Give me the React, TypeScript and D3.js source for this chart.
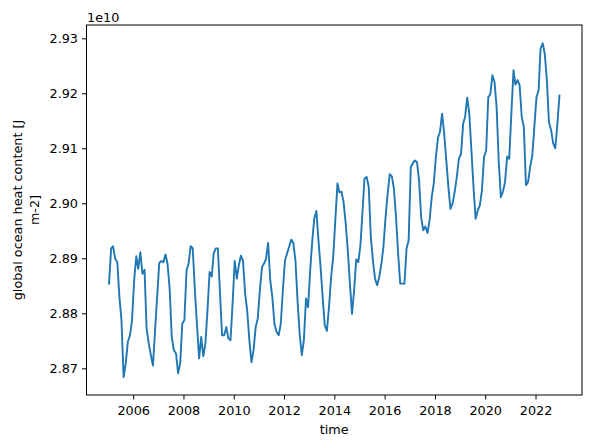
import { useEffect, useRef } from "react";
import * as d3 from "d3";

// years of the monthly record (Jan..Dec each)
const years = [2005, 2006, 2007, 2008, 2009, 2010, 2011, 2012, 2013, 2014, 2015, 2016, 2017, 2018, 2019, 2020, 2021, 2022];

// global ocean heat content, units of 1e10 J m-2, 12 values per year
const ohc = [
  2.8854, 2.8918, 2.8922, 2.8899, 2.8893, 2.8830, 2.8787, 2.8684, 2.8709, 2.8748, 2.8760, 2.8787,
  2.8860, 2.8904, 2.8881, 2.8911, 2.8872, 2.8879, 2.8772, 2.8745, 2.8724, 2.8705, 2.8769, 2.8830,
  2.8892, 2.8895, 2.8893, 2.8907, 2.8890, 2.8845, 2.8757, 2.8733, 2.8727, 2.8691, 2.8709, 2.8781,
  2.8788, 2.8878, 2.8890, 2.8922, 2.8918, 2.8842, 2.8781, 2.8718, 2.8757, 2.8722, 2.8745, 2.8805,
  2.8875, 2.8867, 2.8909, 2.8918, 2.8918, 2.8836, 2.8760, 2.8760, 2.8775, 2.8754, 2.8751, 2.8818,
  2.8895, 2.8863, 2.8887, 2.8905, 2.8896, 2.8836, 2.8805, 2.8751, 2.8711, 2.8733, 2.8775, 2.8790,
  2.8842, 2.8884, 2.8890, 2.8899, 2.8928, 2.8860, 2.8830, 2.8781, 2.8766, 2.8760, 2.8781, 2.8842,
  2.8896, 2.8909, 2.8921, 2.8934, 2.8928, 2.8896, 2.8824, 2.8763, 2.8724, 2.8751, 2.8827, 2.8811,
  2.8878, 2.8933, 2.8972, 2.8986, 2.8933, 2.8884, 2.8830, 2.8778, 2.8768, 2.8811, 2.8866, 2.8902,
  2.8969, 2.9036, 2.9020, 2.9021, 2.9002, 2.8963, 2.8915, 2.8854, 2.8799, 2.8842, 2.8898, 2.8893,
  2.8924, 2.8987, 2.9045, 2.9048, 2.9030, 2.8939, 2.8896, 2.8863, 2.8851, 2.8866, 2.8890, 2.8921,
  2.8975, 2.9018, 2.9053, 2.9049, 2.9027, 2.8975, 2.8909, 2.8854, 2.8854, 2.8854, 2.8918, 2.8933,
  2.9066, 2.9073, 2.9078, 2.9075, 2.9042, 2.8975, 2.8951, 2.8958, 2.8946, 2.8969, 2.9011, 2.9036,
  2.9084, 2.9120, 2.9130, 2.9163, 2.9127, 2.9078, 2.9030, 2.8990, 2.9000, 2.9021, 2.9048, 2.9081,
  2.9090, 2.9145, 2.9157, 2.9192, 2.9163, 2.9096, 2.9030, 2.8972, 2.8987, 2.8996, 2.9024, 2.9084,
  2.9096, 2.9193, 2.9198, 2.9233, 2.9221, 2.9175, 2.9078, 2.9011, 2.9021, 2.9039, 2.9085, 2.9081,
  2.9163, 2.9242, 2.9216, 2.9224, 2.9215, 2.9157, 2.9139, 2.9033, 2.9039, 2.9066, 2.9087, 2.9139,
  2.9193, 2.9205, 2.9281, 2.9291, 2.9272, 2.9224, 2.9148, 2.9133, 2.9109, 2.9100, 2.9145, 2.9196,
];

const yTicks = [2.87, 2.88, 2.89, 2.9, 2.91, 2.92, 2.93];
const xTickYears = [2006, 2008, 2010, 2012, 2014, 2016, 2018, 2020, 2022];

interface Pt { date: Date; v: number }

export default function App() {
  const svgRef = useRef<SVGSVGElement>(null);
  const W = 592, H = 448;
  const m = { top: 25, right: 10, bottom: 53, left: 86.5 };
  const iW = W - m.left - m.right;
  const iH = H - m.top - m.bottom;
  const FONT = "DejaVu Sans, sans-serif";
  const FS = 12.8;

  useEffect(() => {
    if (!svgRef.current) return;
    const svg = d3.select(svgRef.current);
    svg.selectAll("*").remove();

    const data: Pt[] = [];
    years.forEach((yr, yi) => {
      for (let mo = 0; mo < 12; mo++) data.push({ date: new Date(yr, mo, 15), v: ohc[yi * 12 + mo] });
    });

    // matplotlib-style 5% margins
    const [d0, d1] = d3.extent(data, d => +d.date) as [number, number];
    const dp = (d1 - d0) * 0.05;
    const x = d3.scaleTime().domain([new Date(d0 - dp), new Date(d1 + dp)]).range([0, iW]);
    const y = d3.scaleLinear().domain([2.86515, 2.93242]).range([iH, 0]);

    const g = svg.append("g").attr("transform", `translate(${m.left},${m.top})`);

    /* line */
    const line = d3.line<Pt>().x(d => x(d.date)).y(d => y(d.v));
    g.append("path").datum(data)
      .attr("fill", "none").attr("stroke", "#1f77b4").attr("stroke-width", 1.9)
      .attr("stroke-linejoin", "round").attr("stroke-linecap", "square")
      .attr("d", line);

    /* axes */
    const xAxis = d3.axisBottom(x)
      .tickValues(xTickYears.map(yr => new Date(yr, 0, 1)))
      .tickFormat(d3.timeFormat("%Y") as any)
      .tickSize(4.5).tickPadding(6);
    const yAxis = d3.axisLeft(y).tickValues(yTicks).tickFormat(d3.format(".2f")).tickSize(4.5).tickPadding(4);

    const styleAxis = (a: any) => {
      a.attr("font-family", FONT).attr("font-size", FS);
      a.select(".domain").remove();
      a.selectAll("line").attr("stroke", "#000").attr("stroke-width", 1);
      a.selectAll("text").attr("fill", "#000");
    };
    g.append("g").attr("transform", `translate(0,${iH})`).call(xAxis as any).call(styleAxis);
    g.append("g").call(yAxis as any).call(styleAxis);

    /* frame */
    g.append("rect").attr("width", iW).attr("height", iH)
      .attr("fill", "none").attr("stroke", "#000").attr("stroke-width", 1);

    /* labels */
    svg.append("text").attr("x", m.left + iW / 2).attr("y", 434)
      .attr("text-anchor", "middle").attr("font-family", FONT).attr("font-size", FS)
      .text("time");
    const cy = m.top + iH / 2;
    svg.append("text").attr("transform", `translate(21.5,${cy}) rotate(-90)`)
      .attr("text-anchor", "middle").attr("font-family", FONT).attr("font-size", FS)
      .text("global ocean heat content [J");
    svg.append("text").attr("transform", `translate(38.5,${cy}) rotate(-90)`)
      .attr("text-anchor", "middle").attr("font-family", FONT).attr("font-size", FS)
      .text("m-2]");
    svg.append("text").attr("x", 87).attr("y", 21.5)
      .attr("font-family", FONT).attr("font-size", FS)
      .text("1e10");
  }, []);

  return (
    <svg
      ref={svgRef}
      width={W}
      height={H}
      style={{ position: "absolute", left: 0, top: 0, background: "#fff" }}
    />
  );
}
